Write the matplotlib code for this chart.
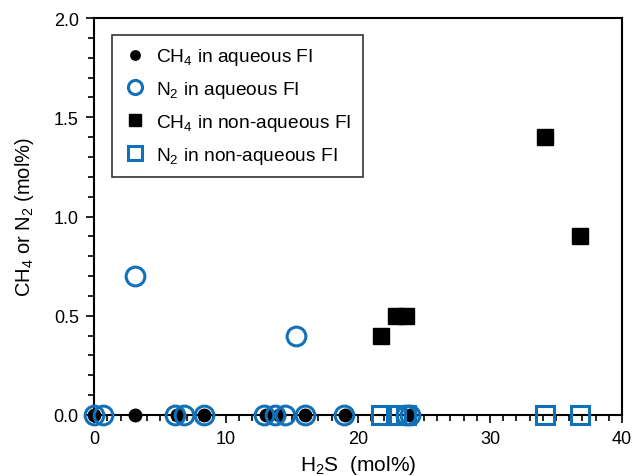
import matplotlib.pyplot as plt
from matplotlib.ticker import MultipleLocator

plt.rcParams['font.family'] = ['Liberation Sans', 'DejaVu Sans']
plt.rcParams['mathtext.fontset'] = 'custom'
plt.rcParams['mathtext.rm'] = 'Liberation Sans'
plt.rcParams['mathtext.it'] = 'Liberation Sans'

blue = '#1070b8'

# CH4 in aqueous FI
ch4_aq_x = [0.0, 3.1, 6.3, 8.3, 13.0, 14.0, 16.0, 19.0, 23.9]
ch4_aq_y = [0.0, 0.0, 0.0, 0.0, 0.0, 0.0, 0.0, 0.0, 0.0]
# N2 in aqueous FI
n2_aq_x = [0.0, 0.7, 3.1, 6.1, 6.8, 8.3, 12.9, 13.7, 14.5, 15.3, 16.0, 18.9, 23.6, 23.9]
n2_aq_y = [0.0, 0.0, 0.7, 0.0, 0.0, 0.0, 0.0, 0.0, 0.0, 0.4, 0.0, 0.0, 0.0, 0.0]
# CH4 in non-aqueous FI
ch4_naq_x = [21.7, 22.9, 23.6, 34.2, 36.8]
ch4_naq_y = [0.4, 0.5, 0.5, 1.4, 0.9]
# N2 in non-aqueous FI
n2_naq_x = [21.7, 22.9, 23.6, 34.2, 36.8]
n2_naq_y = [0.0, 0.0, 0.0, 0.0, 0.0]

fig = plt.figure(figsize=(6.36, 4.77), dpi=100)
ax = fig.add_axes([0.148, 0.128, 0.830, 0.832])

ax.plot(ch4_aq_x, ch4_aq_y, 'o', color='black', ms=9, ls='none',
        clip_on=False, zorder=3, label='CH$_4$ in aqueous FI')
ax.plot(n2_aq_x, n2_aq_y, 'o', mfc='none', mec=blue, mew=2.2, ms=13.5, ls='none',
        clip_on=False, zorder=4, label='N$_2$ in aqueous FI')
ax.plot(ch4_naq_x, ch4_naq_y, 's', color='black', ms=11, ls='none',
        clip_on=False, zorder=3, label='CH$_4$ in non-aqueous FI')
ax.plot(n2_naq_x, n2_naq_y, 's', mfc='none', mec=blue, mew=2.2, ms=13, ls='none',
        clip_on=False, zorder=4, label='N$_2$ in non-aqueous FI')

ax.set_xlim(0, 40)
ax.set_ylim(0, 2.0)
ax.xaxis.set_major_locator(MultipleLocator(10))
ax.xaxis.set_minor_locator(MultipleLocator(1))
ax.yaxis.set_major_locator(MultipleLocator(0.5))
ax.yaxis.set_minor_locator(MultipleLocator(0.1))
ax.yaxis.set_major_formatter(plt.FormatStrFormatter('%.1f'))
ax.tick_params(which='both', direction='out', labelsize=13, width=1.2)
ax.tick_params(which='major', length=6, pad=5)
ax.tick_params(which='minor', length=4)
for s in ax.spines.values():
    s.set_linewidth(1.5)

ax.set_xlabel('H$_2$S  (mol%)', fontsize=15, labelpad=4)
ax.set_ylabel('CH$_4$ or N$_2$ (mol%)', fontsize=14.5, labelpad=13)

leg = ax.legend(loc='upper left', bbox_to_anchor=(0.015, 0.982), fontsize=13.8,
                frameon=True, fancybox=False, edgecolor='black',
                borderpad=0.6, labelspacing=0.62, handletextpad=0.5,
                handlelength=1.2, markerscale=0.75)
leg.get_frame().set_linewidth(1.2)

fig.savefig('out.png', dpi=100)
